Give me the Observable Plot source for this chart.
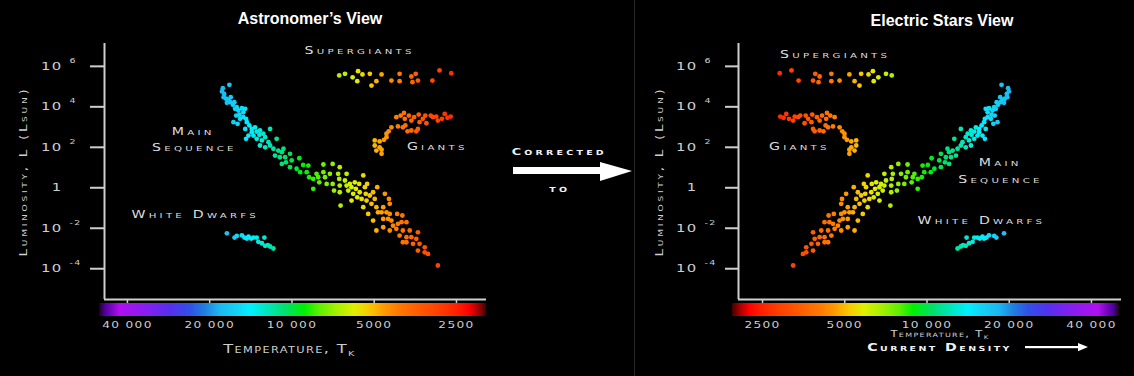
<!DOCTYPE html>
<html>
<head>
<meta charset="utf-8">
<script src="https://cdn.jsdelivr.net/npm/d3@7"></script>
<script src="https://cdn.jsdelivr.net/npm/@observablehq/plot@0.6"></script>
<style>
html, body { margin: 0; padding: 0; background: #000; }
#wrap { position: relative; width: 1134px; height: 376px; background: #000; overflow: hidden; font-family: "DejaVu Sans", sans-serif; color: #d4d4d4; }
.title { position: absolute; width: 300px; text-align: center; font-family: "Liberation Sans", Arial, sans-serif; font-weight: bold; font-size: 16px; color: #fff; line-height: 18px; }
.panel { position: absolute; }
.hr text { letter-spacing: 2.4px; }
.hr g[aria-label="y-axis tick label"] text { letter-spacing: 1px; }
.hr g[aria-label="x-axis tick label"] text { letter-spacing: 1px; }
.lab { position: absolute; width: 240px; text-align: center; font-weight: bold; font-variant: small-caps; color: #f2f2f2; line-height: 12px; }
.lab span { display: inline-block; transform: scaleX(1.35); }
#divider { position: absolute; left: 634px; top: 0; width: 1px; height: 376px; background: #262626; }
</style>
</head>
<body>
<div id="wrap">
  <div class="title" style="left:160px; top:10px;">Astronomer’s View</div>
  <div class="title" style="left:792px; top:12px;">Electric Stars View</div>
  <div id="left" class="panel" style="left:0; top:34px;"></div>
  <div id="divider"></div>
  <div id="right" class="panel" style="left:635px; top:34px;"></div>
  <div class="lab" style="left:439px; top:146px; font-size:9.5px; letter-spacing:2.4px;"><span>Corrected</span></div>
  <svg style="position:absolute; left:500px; top:155px;" width="140" height="35">
    <rect x="13" y="12" width="88" height="7" fill="#fff"></rect>
    <polygon points="100,7 132,16 100,26" fill="#fff"></polygon>
  </svg>
  <div class="lab" style="left:440px; top:183px; font-size:9.5px; letter-spacing:2.4px;"><span>to</span></div>
  <div class="lab" style="left:820px; top:341px; font-size:10.5px; letter-spacing:1.8px;"><span>Current Density</span></div>
  <svg style="position:absolute; left:1020px; top:340px;" width="72" height="14">
    <rect x="5" y="6" width="56" height="2.2" fill="#fff"></rect>
    <polygon points="58,3 68,7.1 58,11.2" fill="#fff"></polygon>
  </svg>
</div>
<script>
// ---------------- data (log10 T in K, log10 L in solar units) ----------------
const tempTicks = [40000, 20000, 10000, 5000, 2500];
const tempTickLabels = ["40 000", "20 000", "10 000", "5000", "2500"];
const lumTicks = [6, 4, 2, 0, -2, -4];

const mainSequence = [
[4.229,5.04],[4.253,4.87],[4.256,4.71],[4.248,4.59],[4.250,4.43],[4.241,4.35],[4.232,4.31],[4.224,4.43],[4.226,4.18],[4.238,4.15],
[4.216,4.05],[4.211,4.18],[4.202,3.93],[4.208,3.85],[4.196,3.77],[4.183,3.88],[4.178,3.68],[4.171,3.85],[4.192,3.56],[4.204,3.52],
[4.190,3.36],[4.178,3.44],[4.168,3.36],[4.214,3.19],[4.199,3.11],[4.165,3.19],[4.156,3.03],[4.171,2.86],[4.147,2.86],[4.135,2.94],
[4.147,2.70],[4.129,2.73],[4.117,2.78],[4.159,2.53],[4.141,2.53],[4.119,2.57],[4.105,2.62],[4.080,2.86],[4.168,2.37],[4.129,2.37],
[4.110,2.29],[4.098,2.45],[4.086,2.20],[4.117,2.04],[4.098,1.95],[4.080,2.04],[4.056,2.37],[4.068,1.88],[4.050,1.79],[4.037,1.71],
[4.031,1.88],[4.062,1.54],[4.044,1.46],[4.025,1.46],[4.007,1.63],[4.022,1.21],[4.037,1.13],[4.001,1.30],[3.973,1.41],[4.007,0.97],
[3.983,0.89],[3.959,1.08],[3.940,1.05],[3.970,0.72],[3.946,0.72],
[3.937,0.47],[3.922,0.39],[3.922,-0.10],[3.910,0.64],[3.904,0.47],[3.900,0.22],[3.885,1.10],[3.885,0.72],[3.879,0.47],[3.873,0.14],
[3.861,0.64],[3.851,1.13],[3.851,0.14],[3.846,-0.19],[3.831,0.64],[3.825,0.97],[3.827,0.39],[3.825,0.06],[3.825,-0.27],[3.822,-0.93],
[3.806,0.31],[3.800,0.06],[3.800,0.64],[3.794,-0.19],[3.788,0.14],[3.782,-0.02],[3.782,-0.68],[3.776,-0.35],[3.770,0.22],[3.766,-0.10],
[3.761,-0.52],[3.754,0.14],[3.752,-0.27],[3.745,-0.60],[3.739,-1.01],[3.739,0.56],[3.733,-0.02],[3.730,-0.35],[3.727,-0.68],[3.725,0.14],
[3.721,-1.34],[3.715,-0.43],[3.709,-0.84],[3.703,-0.27],[3.697,-0.60],[3.691,-1.01],[3.688,-0.02],[3.685,-1.26],
[3.660,-0.35],[3.645,-0.60],[3.642,-0.84],[3.666,-1.01],[3.672,-1.26],[3.654,-1.26],[3.642,-1.34],[3.666,-1.59],[3.648,-1.59],[3.636,-1.67],
[3.615,-1.34],[3.596,-1.42],[3.691,-2.16],[3.666,-2.00],[3.630,-1.92],[3.612,-1.83],[3.599,-1.75],[3.581,-1.75],[3.618,-2.08],[3.642,-2.16],
[3.594,-2.16],[3.569,-2.16],[3.539,-2.25],[3.606,-2.41],[3.581,-2.49],[3.563,-2.49],[3.545,-2.57],[3.594,-2.74],[3.581,-2.74],[3.557,-2.82],
[3.533,-2.82],[3.514,-2.99],[3.539,-3.15],[3.514,-3.24],[3.502,-3.32],[3.466,-3.89],[3.703,-1.67]
];
const giants = [
[3.618,3.44],[3.602,3.52],[3.590,3.65],[3.587,3.36],[3.572,3.52],[3.563,3.27],[3.553,3.44],[3.536,3.57],[3.533,3.19],[3.521,3.36],
[3.512,3.52],[3.508,3.14],[3.492,3.52],[3.484,3.44],[3.472,3.47],[3.466,3.27],[3.451,3.36],[3.441,3.60],[3.431,3.41],[3.419,3.47],
[3.612,2.98],[3.594,2.94],[3.585,3.03],[3.577,2.74],[3.563,2.78],[3.545,2.74],[3.539,2.86],[3.636,2.94],[3.646,2.74],[3.654,2.62],
[3.654,2.45],[3.663,2.32],[3.697,2.29],[3.679,2.24],[3.697,2.04],[3.679,1.95],[3.691,1.79],[3.672,1.63],[3.672,1.83]
];
const supergiants = [
[3.827,5.50],[3.806,5.58],[3.778,5.41],[3.758,5.71],[3.761,5.22],[3.742,5.55],[3.715,5.58],[3.709,5.00],[3.691,5.22],[3.672,5.55],
[3.636,5.25],[3.606,5.58],[3.606,5.22],[3.563,5.45],[3.559,5.17],[3.547,5.58],[3.539,5.25],[3.486,5.25],[3.460,5.75],[3.417,5.61]
];
const whiteDwarfs = [
[4.238,-2.30],[4.210,-2.51],[4.202,-2.43],[4.183,-2.40],[4.174,-2.51],[4.165,-2.56],[4.159,-2.46],[4.149,-2.56],[4.141,-2.51],[4.129,-2.51],
[4.123,-2.72],[4.110,-2.79],[4.101,-2.51],[4.098,-2.92],[4.088,-2.89],[4.080,-2.95],[4.068,-3.05]
];

const regionNames = ["Supergiants", "Main", "Sequence", "Giants", "White Dwarfs"];
const astronomerLabelT = [3.752, 4.361, 4.357, 3.468, 4.354];
const astronomerLabelL = [6.73, 2.73, 1.94, 1.99, -1.37];
const electricLabelT = [3.664, 4.268, 4.269, 3.533, 4.199];
const electricLabelL = [6.52, 1.18, 0.36, 2.00, -1.67];

// rainbow temperature colour ramp (log10 T -> colour)
const colorStopLogT = [3.288, 3.314, 3.350, 3.387, 3.460, 3.533, 3.606, 3.660, 3.715, 3.770, 3.825, 3.898, 3.952,
                       4.025, 4.098, 4.153, 4.190, 4.263, 4.317, 4.372, 4.445, 4.518, 4.628, 4.682, 4.704];
const colorStopHex = ["#400000", "#a00000", "#ff0000", "#ff1c00", "#ff4000", "#ff5a00", "#ff7800", "#ff9800", "#f8c800",
                      "#e0f000", "#b0f000", "#60f000", "#00f000", "#00e070", "#00e8c8", "#00f0ff", "#10d8f8", "#1cb8f0",
                      "#2080e0", "#3050e8", "#5530f0", "#8020f0", "#b010f0", "#5000a0", "#200020"];

// ---------------- build ----------------
const stars = [
  ...mainSequence.map(([t, l]) => ({t, l, group: "Main sequence"})),
  ...giants.map(([t, l]) => ({t, l, group: "Giants"})),
  ...supergiants.map(([t, l]) => ({t, l, group: "Supergiants"})),
  ...whiteDwarfs.map(([t, l]) => ({t, l, group: "White dwarfs"}))
];
const axisGrey = "#cfcfcf";
const yDomain = [-5.57, 7.08];
const fmtTemp = d => {
  const i = tempTicks.findIndex(t => Math.abs(Math.log10(t) - d) < 1e-9);
  return i < 0 ? "" : tempTickLabels[i];
};

function colorBar(id) {
  return (index, scales, values, dimensions) => {
    const x = scales.x;
    const pts = colorStopLogT.map((t, i) => ({px: x(t), c: colorStopHex[i]})).sort((a, b) => a.px - b.px);
    const x0 = pts[0].px, x1 = pts[pts.length - 1].px;
    const g = d3.create("svg:g");
    const grad = g.append("defs").append("linearGradient").attr("id", id)
      .attr("gradientUnits", "userSpaceOnUse").attr("x1", x0).attr("x2", x1).attr("y1", 0).attr("y2", 0);
    pts.forEach(p => grad.append("stop").attr("offset", (p.px - x0) / (x1 - x0)).attr("stop-color", p.c));
    const yb = dimensions.height - dimensions.marginBottom;
    g.append("rect").attr("x", x0).attr("width", x1 - x0).attr("y", yb + 4).attr("height", 13).attr("fill", `url(#${id})`);
    return g.node();
  };
}

function hrPanel(o) {
  return Plot.plot({
    width: o.width, height: o.height,
    marginLeft: o.marginLeft, marginRight: o.marginRight, marginTop: 9, marginBottom: o.marginBottom,
    className: "hr",
    style: {background: "transparent", color: axisGrey, fontFamily: "'DejaVu Sans', sans-serif"},
    x: {type: "linear", domain: o.xDomain},
    y: {type: "linear", domain: yDomain},
    color: {type: "linear", domain: colorStopLogT, range: colorStopHex, clamp: true},
    marks: [
      colorBar(o.gradId),
      Plot.ruleX([o.xDomain[0]], {stroke: axisGrey, strokeWidth: 2}),
      Plot.ruleY([yDomain[0]], {stroke: axisGrey, strokeWidth: 2}),
      Plot.axisY({ticks: lumTicks, tickSize: o.tickSize, tickPadding: 28, strokeWidth: 2, stroke: axisGrey, fill: axisGrey,
                  tickFormat: d => d === 0 ? "1" : "10", fontSize: 11, dy: 1, label: null}),
      Plot.axisY({ticks: lumTicks.filter(d => d !== 0), tickSize: 0, tickPadding: o.expPad, textAnchor: "start", fill: axisGrey,
                  tickFormat: d => String(d), fontSize: 7, dy: -5, label: null}),
      Plot.axisX({ticks: tempTicks.map(Math.log10), tickSize: 4, tickPadding: 18, strokeWidth: 1.5, stroke: axisGrey, fill: axisGrey,
                  tickFormat: fmtTemp, fontSize: 9, label: null}),
      Plot.text(["Luminosity, L (Lsun)"], {frameAnchor: "left", textAnchor: "middle", lineAnchor: "middle", rotate: -90,
                  dx: o.yTitleDx, fontSize: 10, fontVariant: "small-caps", fill: axisGrey}),
      Plot.text(["Temperature, T"], {frameAnchor: "bottom", textAnchor: "middle", lineAnchor: "middle",
                  dx: o.xTitleDx, dy: o.xTitleDy, fontSize: o.xTitleSize, fontVariant: "small-caps", fill: axisGrey}),
      Plot.text(regionNames, {x: (d, i) => o.labelT[i], y: (d, i) => o.labelL[i], fontSize: 10.5, fontVariant: "small-caps", fill: "#dcdcdc"}),
      Plot.dot(stars, {x: "t", y: "l", fill: "t", r: 2.4, dx: o.dotDx})
    ]
  });
}

const left = hrPanel({width: 500, height: 342, marginLeft: 104, marginRight: 14, marginBottom: 77,
  xDomain: [4.686, 3.288], tickSize: 14, expPad: 35, yTitleDx: -81, xTitleDx: -6, xTitleDy: 50, xTitleSize: 12,
  labelT: astronomerLabelT, labelL: astronomerLabelL, dotDx: 0, gradId: "gradA"});
const right = hrPanel({width: 499, height: 306, marginLeft: 103, marginRight: 13, marginBottom: 41,
  xDomain: [3.310, 4.712], tickSize: 13, expPad: 34, yTitleDx: -79, xTitleDx: 10, xTitleDy: 35, xTitleSize: 8.5,
  labelT: electricLabelT, labelL: electricLabelL, dotDx: 12, gradId: "gradB"});

document.getElementById("left").appendChild(left);
document.getElementById("right").appendChild(right);

// wide lettering + subscript K
function widen(el, sx) {
  let tr = el.getAttribute("transform");
  if (!tr) {
    const x = +el.getAttribute("x") || 0, y = +el.getAttribute("y") || 0;
    el.removeAttribute("x"); el.removeAttribute("y");
    tr = `translate(${x},${y})`;
  }
  el.setAttribute("transform", `${tr} scale(${sx},1)`);
}
for (const svg of [left, right]) {
  d3.select(svg).selectAll("text").each(function() {
    const t = this.textContent;
    if (t === "Temperature, T") {
      this.style.letterSpacing = "1px";
      d3.select(this).append("tspan").attr("font-size", "0.6em").attr("dy", "0.35em").text("K");
    } else if (t === "Luminosity, L (Lsun)") {
      this.style.letterSpacing = "2px";
    }
    widen(this, 1.35);
  });
}
</script>
</body>
</html>
